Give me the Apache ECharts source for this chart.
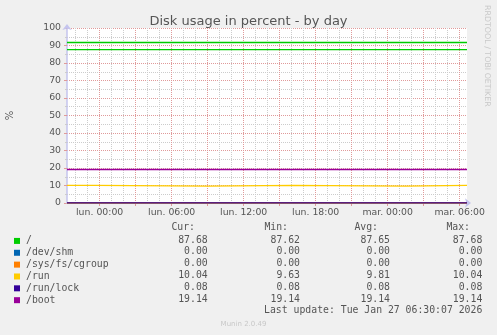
<!DOCTYPE html>
<html><head><meta charset="utf-8">
<script src="https://cdn.jsdelivr.net/npm/echarts@6/dist/echarts.min.js"></script>
<style>html,body{margin:0;padding:0;background:#f0f0f0}#c{width:497px;height:335px}</style>
</head><body><div id="c"></div>
<script>
// ---- data ----
const chartTitle = 'Disk usage in percent - by day';
const seriesNames = ['/', '/dev/shm', '/sys/fs/cgroup', '/run', '/run/lock', '/boot'];
const seriesColors = ['#00cc00', '#0066b3', '#ff8000', '#ffcc00', '#330099', '#990099'];
// sample times, hours relative to Monday 00:00
const hours = [-2.72, -0.30, 9.0, 16.12, 25.5, 30.61];
const rootVals   = [87.62, 87.63, 87.65, 87.66, 87.67, 87.68];
const shmVals    = [0, 0, 0, 0, 0, 0];
const cgroupVals = [0, 0, 0, 0, 0, 0];
const runVals    = [10.04, 9.63, 10.04, 9.63, 10.04, 10.04];
const lockVals   = [0.08, 0.08, 0.08, 0.08, 0.08, 0.08];
const bootVals   = [19.14, 19.14, 19.14, 19.14, 19.14, 19.14];
const warnLevel = 92;
const curVals = ['87.68', '0.00', '0.00', '10.04', '0.08', '19.14'];
const minVals = ['87.62', '0.00', '0.00', '9.63', '0.08', '19.14'];
const avgVals = ['87.65', '0.00', '0.00', '9.81', '0.08', '19.14'];
const maxVals = ['87.68', '0.00', '0.00', '10.04', '0.08', '19.14'];
const xLabelHours = [0, 6, 12, 18, 24, 30];
const xLabelTexts = ['lun. 00:00', 'lun. 06:00', 'lun. 12:00', 'lun. 18:00', 'mar. 00:00', 'mar. 06:00'];
const xMajorHours = [0, 3, 6, 9, 12, 15, 18, 21, 24, 27, 30];
const xMinorHours = [-2, -1, 1, 2, 4, 5, 7, 8, 10, 11, 13, 14, 16, 17, 19, 20, 22, 23, 25, 26, 28, 29];
const xMin = -2.72, xMax = 30.61;
const lastUpdate = 'Last update: Tue Jan 27 06:30:07 2026';
const footer = 'Munin 2.0.49';
const sideText = 'RRDTOOL / TOBI OETIKER';

// ---- styles ----
const txt = '#555555';
const majorGrid = '#e09a9a';
const minorGrid = '#cccccc';
const axisCol = '#c4c4ee';
const mono = '"DejaVu Sans Mono", monospace';
const sans = '"DejaVu Sans", sans-serif';

const allVals = [rootVals, shmVals, cgroupVals, runVals, lockVals, bootVals];
const series = seriesNames.map((n, i) => {
  const s = {
    name: n, type: 'line', step: 'end', showSymbol: false, symbol: 'none',
    xAxisIndex: 2, animation: false,
    data: hours.map((h, k) => [h, allVals[i][k]]),
    lineStyle: { color: seriesColors[i], width: 1.3 },
    itemStyle: { color: seriesColors[i] },
    zlevel: 1, z: 10
  };
  if (i === 0) {
    s.markLine = { silent: true, symbol: 'none', label: { show: false },
      lineStyle: { color: seriesColors[0], type: 'solid', width: 1.3 },
      data: [{ yAxis: warnLevel }] };
  }
  return s;
});

const rowY0 = 240, rowStep = 11.85;
const graphics = [];
const cols = [
  { head: 'Cur:', vals: curVals, hx: 195, vx: 207.7 },
  { head: 'Min:', vals: minVals, hx: 288, vx: 300 },
  { head: 'Avg:', vals: avgVals, hx: 378, vx: 390 },
  { head: 'Max:', vals: maxVals, hx: 470, vx: 482.3 }
];
const monoFont = '9.8px ' + mono;
cols.forEach(c => {
  graphics.push({ type: 'text', x: c.hx, y: 227.5, style: { text: c.head, font: monoFont, fill: txt, align: 'right', verticalAlign: 'middle' } });
  c.vals.forEach((v, i) => {
    graphics.push({ type: 'text', x: c.vx, y: rowY0 + i * rowStep, style: { text: v, font: monoFont, fill: txt, align: 'right', verticalAlign: 'middle' } });
  });
});
graphics.push({ type: 'text', x: 482.3, y: 310.8, style: { text: lastUpdate, font: monoFont, fill: txt, align: 'right', verticalAlign: 'middle' } });
graphics.push({ type: 'text', x: 243.5, y: 324.5, style: { text: footer, font: '7px ' + sans, fill: '#c8c8c8', align: 'center', verticalAlign: 'middle' } });
graphics.push({ type: 'text', x: 487.5, y: 5, rotation: -Math.PI / 2, style: { text: sideText, font: '7.9px ' + sans, fill: '#c8c8c8', align: 'left', verticalAlign: 'middle' } });

const hiddenAxisBase = {
  type: 'value', min: xMin, max: xMax, position: 'bottom',
  axisLine: { show: false, onZero: false }
};

const option = {
  backgroundColor: '#f0f0f0',
  animation: false,
  title: { text: chartTitle, left: 'center', top: 10, textStyle: { fontFamily: sans, fontSize: 13, fontWeight: 'normal', color: txt } },
  grid: { left: 67, right: 30, top: 28, bottom: 132, show: true, backgroundColor: '#ffffff', borderWidth: 0, containLabel: false, outerBoundsMode: 'none' },
  legend: {
    orient: 'vertical', left: 14, top: 235, itemWidth: 6, itemHeight: 6, itemGap: 0, icon: 'rect',
    selectedMode: false, data: seriesNames, padding: 0,
    textStyle: { fontFamily: mono, fontSize: 9.8, color: txt, lineHeight: 11.85, padding: [0, 0, 0, 1] }
  },
  xAxis: [
    // hourly minor grid
    Object.assign({}, hiddenAxisBase, {
      axisTick: { show: false, customValues: xMinorHours },
      axisLabel: { show: false, customValues: xMinorHours },
      splitLine: { show: true, lineStyle: { color: minorGrid, type: [1, 1], width: 1 } },
      z: 1
    }),
    // 3-hourly major grid + ticks
    Object.assign({}, hiddenAxisBase, {
      axisTick: { show: true, customValues: xMajorHours, length: 3, lineStyle: { color: majorGrid } },
      axisLabel: { show: false, customValues: xMajorHours },
      splitLine: { show: true, lineStyle: { color: majorGrid, type: [1, 1], width: 1 } },
      z: 2
    }),
    // axis line + labels (data axis)
    {
      type: 'value', min: xMin, max: xMax, position: 'bottom',
      axisLine: { show: true, onZero: false, lineStyle: { color: axisCol, width: 1.5 }, symbol: ['none', 'arrow'], symbolSize: [7, 6], symbolOffset: [0, 4] },
      axisTick: { show: false, customValues: xLabelHours },
      axisLabel: { show: true, customValues: xLabelHours, margin: 5, fontFamily: sans, fontSize: 9.33, color: txt,
        formatter: v => { const i = xLabelHours.indexOf(Math.round(v)); return i >= 0 ? xLabelTexts[i] : ''; } },
      splitLine: { show: false },
      z: 3
    }
  ],
  yAxis: {
    type: 'value', min: 0, max: 100, interval: 10,
    name: '%', nameLocation: 'middle', nameGap: 52, nameRotate: 90,
    nameTextStyle: { fontFamily: sans, fontSize: 10, color: txt },
    axisLine: { show: true, onZero: false, lineStyle: { color: axisCol, width: 1.5 }, symbol: ['none', 'arrow'], symbolSize: [7, 6], symbolOffset: [0, 4] },
    axisTick: { show: true, length: 3, lineStyle: { color: majorGrid } },
    axisLabel: { margin: 6, fontFamily: sans, fontSize: 9.33, color: txt },
    splitLine: { show: true, lineStyle: { color: majorGrid, type: [1, 1], width: 1 } },
    minorTick: { show: true, splitNumber: 2, length: 2, lineStyle: { color: minorGrid } },
    minorSplitLine: { show: true, lineStyle: { color: minorGrid, type: [1, 1], width: 1 } }
  },
  series: series,
  graphic: graphics
};
const chart = echarts.init(document.getElementById('c'), null, { renderer: 'canvas' });
chart.setOption(option);
</script></body></html>
